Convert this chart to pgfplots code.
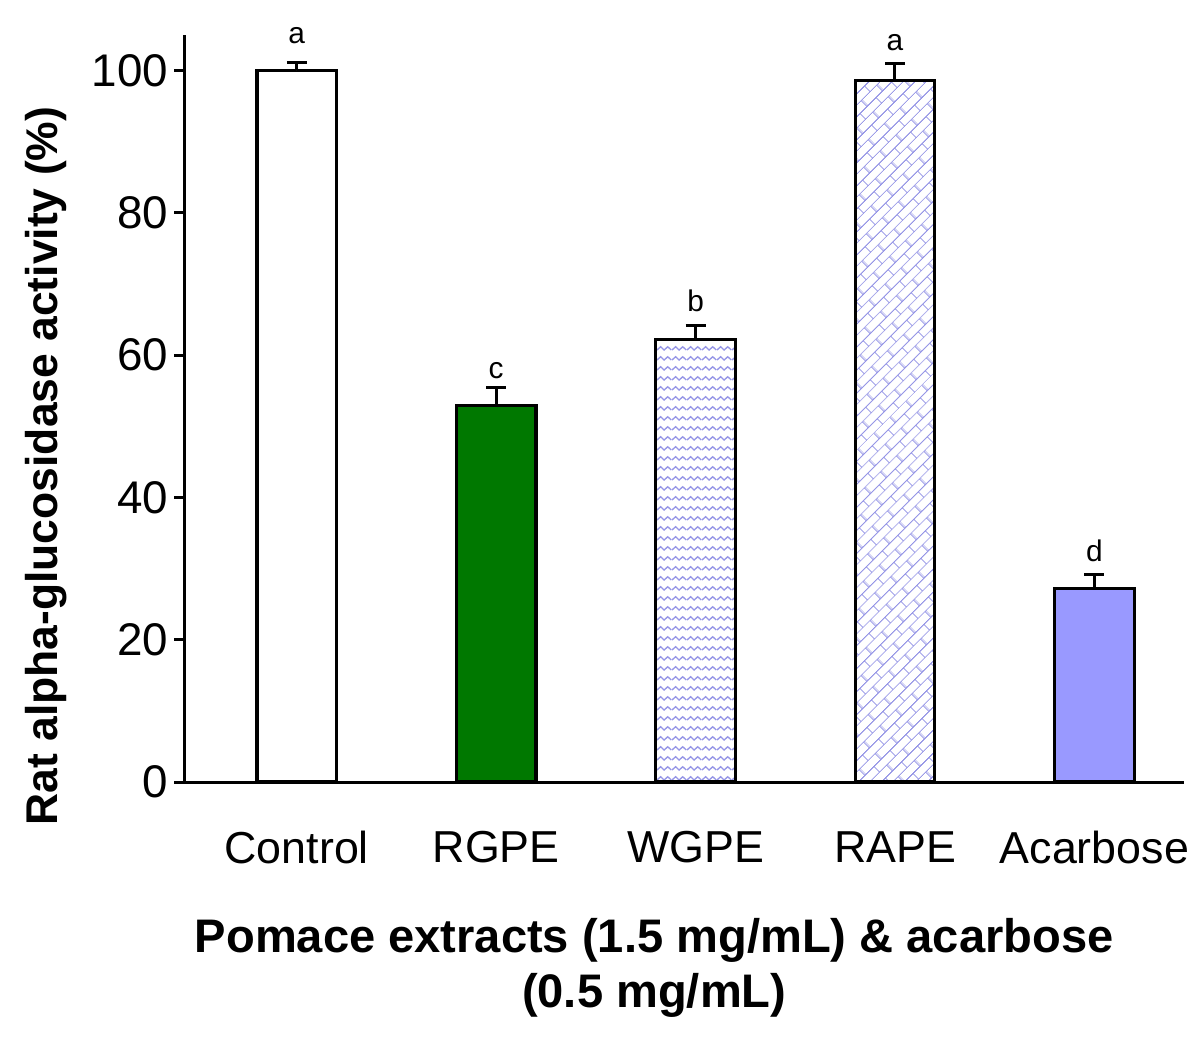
\documentclass[border=0pt]{standalone}
\usepackage{pgfplots}
\pgfplotsset{compat=1.18}
\usepackage{fontspec}
\setmainfont{Liberation Sans}
\usetikzlibrary{patterns.meta}
\definecolor{patblue}{RGB}{150,150,230}
\definecolor{acarb}{RGB}{153,153,255}
\definecolor{rgreen}{RGB}{0,120,0}
\tikzdeclarepattern{
  name=zigzag,
  type=uncolored,
  bounding box={(0,0) and (4.4pt,3pt)},
  tile size={(4.4pt,3pt)},
  code={
    \draw[line width=0.4pt] (0,0.9pt) -- (1.1pt,1.9pt) -- (2.2pt,0.9pt) -- (3.3pt,1.9pt) -- (4.4pt,0.9pt);
  }
}
\tikzdeclarepattern{
  name=bricks,
  type=uncolored,
  bounding box={(0,0) and (7pt,5pt)},
  tile size={(7pt,5pt)},
  tile transformation={rotate=45},
  code={
    \draw[line width=0.4pt] (0,0.1pt) -- (7pt,0.1pt) (0,2.6pt) -- (7pt,2.6pt)
      (0.1pt,0.1pt) -- (0.1pt,2.6pt) (3.5pt,2.6pt) -- (3.5pt,5pt);
  }
}
\begin{document}
\begin{tikzpicture}
\begin{axis}[
  scale only axis,
  width=301.5pt, height=225.3pt,
  xmin=-0.565, xmax=4.45,
  ymin=0, ymax=105,
  clip=false,
  axis x line=bottom, axis y line=left,
  axis line style={-, line width=0.9pt},
  ytick={0,20,40,60,80,100},
  xtick={0,1,2,3,4},
  xticklabels={Control,RGPE,WGPE,RAPE,Acarbose},
  x tick style={draw=none},
  y tick style={line width=0.9pt, black},
  tick align=outside,
  major tick length=3pt,
  /pgf/number format/assume math mode=true,
  yticklabel style={font=\fontsize{13.8}{15}\selectfont, xshift=1.7pt},
  xticklabel style={font=\fontsize{13.5}{15}\selectfont, yshift=-8.3pt},
  xlabel={Pomace extracts (1.5 mg/mL) \& acarbose\\(0.5 mg/mL)},
  xlabel style={font=\bfseries\fontsize{14.2}{16.5}\selectfont, align=center, xshift=-9pt, yshift=-9.5pt},
  ylabel={Rat alpha-glucosidase activity (\%)},
  ylabel style={font=\bfseries\fontsize{13.4}{15}\selectfont, xshift=-17.4pt, yshift=0.5pt},
  error bars/error bar style={line width=0.9pt},
]
\addplot[ybar, bar width=24pt, bar shift=0pt, fill=white, draw=black, line width=1pt,
  error bars/.cd, y dir=plus, y explicit, error mark options={rotate=90, mark size=3pt, line width=1pt}]
  coordinates {(0,100) +- (0,1.1)};
\addplot[ybar, bar width=24pt, bar shift=0pt, fill=rgreen, draw=black, line width=1pt,
  error bars/.cd, y dir=plus, y explicit, error mark options={rotate=90, mark size=3pt, line width=1pt}]
  coordinates {(1,52.9) +- (0,2.5)};
\addplot[ybar, bar width=24pt, bar shift=0pt, pattern={zigzag}, pattern color=patblue, draw=black, line width=1pt,
  error bars/.cd, y dir=plus, y explicit, error mark options={rotate=90, mark size=3pt, line width=1pt}]
  coordinates {(2,62.2) +- (0,2.0)};
\addplot[ybar, bar width=24pt, bar shift=0pt, pattern={bricks}, pattern color=patblue, draw=black, line width=1pt,
  error bars/.cd, y dir=plus, y explicit, error mark options={rotate=90, mark size=3pt, line width=1pt}]
  coordinates {(3,98.6) +- (0,2.4)};
\addplot[ybar, bar width=24pt, bar shift=0pt, fill=acarb, draw=black, line width=1pt,
  error bars/.cd, y dir=plus, y explicit, error mark options={rotate=90, mark size=3pt, line width=1pt}]
  coordinates {(4,27.2) +- (0,2.0)};
\addplot[draw=none, mark=none, nodes near coords, point meta=explicit symbolic,
  nodes near coords style={anchor=center, font=\fontsize{9}{10}\selectfont, inner sep=0pt}]
  coordinates {(0,104.9) [a] (1,57.8) [c] (2,67.6) [b] (3,103.9) [a] (4,32.5) [d]};
\end{axis}
\path ([yshift=10.5pt]current axis.north);
\path ([xshift=-55.5pt,yshift=-78pt]current axis.south west);
\end{tikzpicture}
\end{document}
